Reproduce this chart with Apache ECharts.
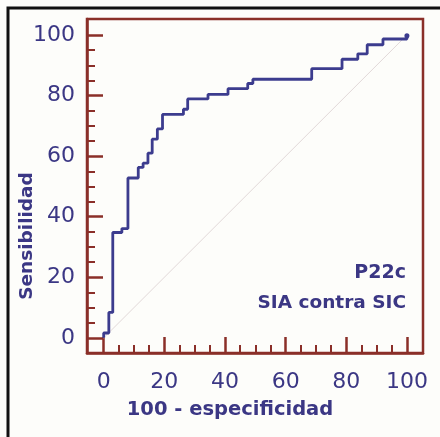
<!DOCTYPE html>
<html>
<head>
    <meta charset="utf-8">
    <title>P22c SIA contra SIC</title>
    <script src="https://cdn.jsdelivr.net/npm/echarts@6.0.0/dist/echarts.min.js"></script>
    <style>
        html, body { margin: 0; padding: 0; background: #fdfdfa; }
        #chart { width: 440px; height: 437px; }
    </style>
</head>
<body>
<div id="chart"></div>
<script>
    // ROC curve corners (100 - especificidad, sensibilidad)
    var rocX = [0, 0, 1.7, 3, 6, 8, 11.4, 13, 14.6, 16, 17.7, 19.4, 26.3, 27.7, 34.4, 41, 47.5, 49.2, 68.6, 78.6, 83.8, 86.9, 92.1, 100];
    var rocY = [0, 1.6, 8.4, 34.8, 36.1, 52.8, 56.3, 57.7, 61, 65.6, 69, 73.8, 75.5, 78.9, 80.4, 82.3, 84, 85.4, 88.9, 92, 93.8, 96.8, 98.7, 99.8];
    var diagonal = [[0, 0], [100, 100]];
    var majorTicks = [0, 20, 40, 60, 80, 100];
    var minorTicks = [5, 10, 15, 25, 30, 35, 45, 50, 55, 65, 70, 75, 85, 90, 95];

    var frameColor = '#8a2f28';
    var textColor = '#3b3784';
    var lineColor = '#3c3c8e';

    var chart = echarts.init(document.getElementById('chart'));

    var curve = rocX.map(function (x, i) { return [x, rocY[i]]; });

    function axisPair(dim) {
        var min = dim === 'x' ? -5.5 : -5;
        var max = 105.3;
        var main = {
            type: 'value', min: min, max: max,
            position: dim === 'x' ? 'bottom' : 'left',
            splitLine: { show: false },
            axisLine: { show: true, onZero: false, lineStyle: { color: frameColor, width: 2.5 } },
            axisTick: { show: true, inside: true, length: 16, customValues: majorTicks,
                lineStyle: { color: frameColor, width: 2.5 } },
            axisLabel: { customValues: majorTicks, color: textColor, fontSize: 22,
                fontFamily: 'DejaVu Sans', margin: dim === 'x' ? 18 : 12 }
        };
        var minor = {
            type: 'value', min: min, max: max,
            position: dim === 'x' ? 'bottom' : 'left',
            splitLine: { show: false },
            axisLine: { show: false, onZero: false },
            axisTick: { show: true, inside: true, length: 8, customValues: minorTicks,
                lineStyle: { color: frameColor, width: 2 } },
            axisLabel: { show: false }
        };
        return [main, minor];
    }

    var option = {
        backgroundColor: '#fdfdfa',
        animation: false,
        grid: {
            left: 87, top: 19, right: 17, bottom: 84,
            show: true, borderColor: frameColor, borderWidth: 2.5
        },
        xAxis: axisPair('x'),
        yAxis: axisPair('y'),
        series: [
            {
                type: 'line',
                data: diagonal,
                showSymbol: false,
                lineStyle: { color: '#e2d9d9', width: 1 },
                silent: true
            },
            {
                type: 'line',
                data: curve,
                step: 'end',
                showSymbol: false,
                lineStyle: { color: lineColor, width: 2.8 },
                markPoint: {
                    symbol: 'circle', symbolSize: 5,
                    itemStyle: { color: lineColor },
                    label: { show: false },
                    data: [{ coord: [100, 99.8] }]
                }
            }
        ],
        graphic: [
            {
                type: 'rect',
                shape: { x: 8, y: 8, width: 600, height: 600 },
                style: { fill: 'none', stroke: '#111', lineWidth: 3 },
                silent: true
            },
            {
                type: 'text',
                x: 230, y: 410,
                style: {
                    text: '100 - especificidad', fill: textColor,
                    font: 'bold 19.5px "DejaVu Sans"', textAlign: 'center', textVerticalAlign: 'middle'
                }
            },
            {
                type: 'text',
                x: 27, y: 236,
                rotation: Math.PI / 2,
                style: {
                    text: 'Sensibilidad', fill: textColor,
                    font: 'bold 18.5px "DejaVu Sans"', textAlign: 'center', textVerticalAlign: 'middle'
                }
            },
            {
                type: 'text',
                x: 406, y: 273,
                style: {
                    text: 'P22c', fill: textColor,
                    font: 'bold 19px "DejaVu Sans"', textAlign: 'right', textVerticalAlign: 'middle'
                }
            },
            {
                type: 'text',
                x: 406, y: 303,
                style: {
                    text: 'SIA contra SIC', fill: textColor,
                    font: 'bold 18.5px "DejaVu Sans"', textAlign: 'right', textVerticalAlign: 'middle'
                }
            }
        ]
    };

    chart.setOption(option);
</script>
</body>
</html>
